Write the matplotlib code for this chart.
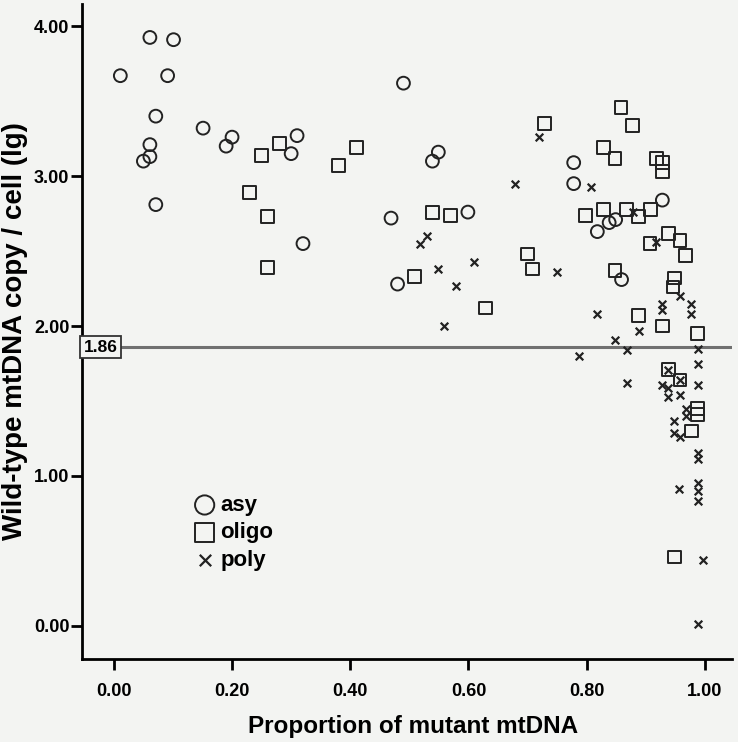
import matplotlib
matplotlib.use("Agg")
import matplotlib.pyplot as plt
import numpy as np

plt.rcParams['font.family'] = ['Liberation Sans', 'DejaVu Sans']
plt.rcParams['font.weight'] = 'bold'

# asy group
asy_x = [0.011, 0.061, 0.101, 0.091, 0.071, 0.151, 0.20, 0.19, 0.31, 0.30,
         0.061, 0.061, 0.05, 0.071, 0.32, 0.49, 0.549, 0.539, 0.469, 0.599,
         0.48, 0.778, 0.778, 0.928, 0.818, 0.838, 0.849, 0.859]
asy_y = [3.67, 3.925, 3.91, 3.67, 3.40, 3.32, 3.26, 3.20, 3.27, 3.15,
         3.21, 3.13, 3.10, 2.81, 2.55, 3.62, 3.16, 3.10, 2.72, 2.76,
         2.28, 3.09, 2.95, 2.84, 2.63, 2.69, 2.71, 2.31]

# oligo group
oligo_x = [0.28, 0.25, 0.38, 0.41, 0.23, 0.26, 0.26, 0.539, 0.569, 0.509,
           0.629, 0.70, 0.708, 0.728, 0.858, 0.878, 0.828, 0.848, 0.918, 0.928,
           0.928, 0.798, 0.828, 0.868, 0.888, 0.908, 0.938, 0.907, 0.958, 0.967,
           0.848, 0.948, 0.946, 0.888, 0.928, 0.988, 0.938, 0.958, 0.988, 0.988,
           0.977, 0.948]
oligo_y = [3.22, 3.14, 3.07, 3.19, 2.89, 2.73, 2.39, 2.76, 2.74, 2.33,
           2.12, 2.48, 2.38, 3.35, 3.46, 3.34, 3.19, 3.12, 3.12, 3.09,
           3.03, 2.74, 2.78, 2.78, 2.73, 2.78, 2.62, 2.55, 2.57, 2.47,
           2.37, 2.32, 2.26, 2.07, 2.00, 1.95, 1.71, 1.64, 1.45, 1.41,
           1.30, 0.46]

# poly group
poly_x = [0.678, 0.529, 0.518, 0.609, 0.549, 0.579, 0.559, 0.719, 0.808, 0.878,
          0.917, 0.749, 0.958, 0.928, 0.928, 0.977, 0.977, 0.818, 0.888, 0.848,
          0.868, 0.988, 0.787, 0.988, 0.938, 0.958, 0.868, 0.927, 0.938, 0.988,
          0.938, 0.958, 0.968, 0.968, 0.948, 0.948, 0.958, 0.988, 0.988, 0.957,
          0.988, 0.988, 0.988, 0.996, 0.988]
poly_y = [2.95, 2.60, 2.55, 2.43, 2.38, 2.27, 2.00, 3.26, 2.93, 2.76,
          2.56, 2.36, 2.20, 2.15, 2.11, 2.15, 2.08, 2.08, 1.97, 1.91,
          1.84, 1.85, 1.80, 1.75, 1.71, 1.64, 1.62, 1.61, 1.59, 1.61,
          1.53, 1.54, 1.45, 1.40, 1.37, 1.29, 1.26, 1.15, 1.11, 0.91,
          0.955, 0.90, 0.835, 0.44, 0.01]

cutoff = 1.86
xticks = [0.0, 0.2, 0.4, 0.6, 0.8, 1.0]
yticks = [0.0, 1.0, 2.0, 3.0, 4.0]

bg = "#f3f4f2"
fig = plt.figure(figsize=(7.38, 7.42), dpi=100, facecolor=bg)
ax = fig.add_axes([0.111, 0.112, 0.881, 0.883], facecolor=bg)

ax.scatter(asy_x, asy_y, s=85, marker="o", facecolors="none", edgecolors="#222222",
           linewidths=1.4, label="asy", zorder=3)
ax.scatter(oligo_x, oligo_y, s=85, marker="s", facecolors="none", edgecolors="#222222",
           linewidths=1.4, label="oligo", zorder=3)
ax.scatter(poly_x, poly_y, s=30, marker="x", color="#222222",
           linewidths=1.6, label="poly", zorder=3)

# cutoff line with boxed label
ax.axhline(cutoff, color="#707070", linewidth=2.2, zorder=2)
ax.text(-0.051, cutoff, "1.86", fontsize=12.5, fontweight="bold", va="center", ha="left",
        bbox=dict(boxstyle="square,pad=0.2", facecolor=bg, edgecolor="#333333", linewidth=1.3),
        zorder=4)

ax.set_xlim(-0.054, 1.046)
ax.set_ylim(-0.22, 4.15)
ax.set_xticks(xticks)
ax.set_xticklabels([f"{t:.2f}" for t in xticks])
ax.set_yticks(yticks)
ax.set_yticklabels([f"{t:.2f}" for t in yticks])
ax.tick_params(direction="out", length=8, width=2, labelsize=13)
ax.tick_params(axis="x", pad=9)
ax.tick_params(axis="y", pad=1)

for side in ["top", "right"]:
    ax.spines[side].set_visible(False)
for side in ["left", "bottom"]:
    ax.spines[side].set_linewidth(2)

ax.set_xlabel("Proportion of mutant mtDNA", fontsize=17.5, fontweight="bold", labelpad=12)
ax.xaxis.set_label_coords(0.51, -0.085)
ax.set_ylabel("Wild-type mtDNA copy / cell (lg)", fontsize=20, fontweight="bold", labelpad=4)

ax.legend(loc="upper left", bbox_to_anchor=(0.158, 0.264), frameon=False, fontsize=16,
          handletextpad=0.2, labelspacing=0.3, borderaxespad=0, handlelength=1.0,
          markerscale=1.5)

fig.savefig("out.png", dpi=100, facecolor=bg)
